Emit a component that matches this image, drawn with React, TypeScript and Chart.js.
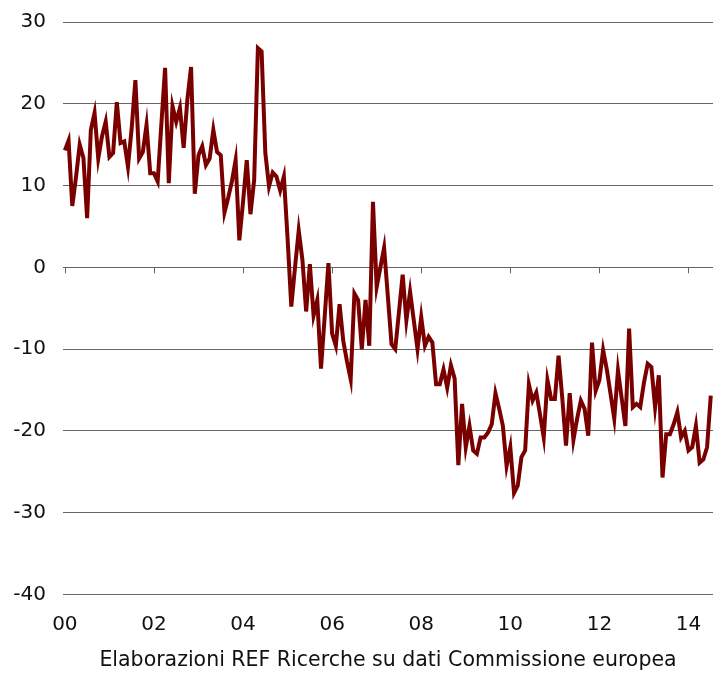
import React, { useEffect, useRef } from 'react';
import { Chart, registerables } from 'chart.js';

Chart.register(...registerables);

// Monthly values, Jan 2000 onward (index = months since Jan 2000)
const VALUES: number[] = [
  14.3, 15.5, 7.5, 11.0, 15.0, 13.4, 6.0, 16.8, 18.9, 13.3, 16.0, 17.8,
  13.5, 14.0, 20.2, 15.2, 15.4, 12.3, 17.0, 22.9, 13.3, 14.1, 17.4, 11.5,
  11.5, 10.5, 17.5, 24.4, 10.3, 19.7, 17.8, 19.5, 14.6, 20.5, 24.5, 9.0,
  13.7, 14.8, 12.5, 13.3, 16.8, 14.1, 13.7, 6.7, 8.5, 10.5, 13.1, 3.3,
  8.0, 13.1, 6.5, 10.7, 26.8, 26.4, 14.0, 9.9, 11.6, 11.1, 9.4, 11.1,
  3.5, -4.8, 0.0, 4.5, 0.9, -5.4, 0.4, -5.9, -4.0, -12.4, -6.0, 0.5,
  -8.1, -9.6, -4.5, -9.0, -11.5, -13.7, -3.2, -4.0, -10.0, -4.0, -9.6, 8.0,
  -2.4, 0.0, 2.4, -3.5, -9.4, -10.0, -5.5, -0.9, -6.5, -3.0, -6.5, -10.0,
  -6.1, -9.6, -8.5, -9.2, -14.3, -14.3, -12.5, -14.7, -12.0, -13.6, -24.2, -16.7,
  -22.0, -19.4, -22.4, -22.8, -20.8, -20.8, -20.2, -19.2, -15.4, -17.3, -19.4, -24.3,
  -22.0, -27.6, -26.7, -23.2, -22.4, -14.3, -16.3, -15.3, -18.0, -20.8, -13.8, -16.1,
  -16.1, -10.8, -16.0, -21.8, -15.4, -21.1, -18.5, -16.3, -17.3, -20.6, -9.2, -15.1,
  -13.8, -10.1, -12.5, -15.5, -18.5, -12.6, -16.0, -19.4, -7.5, -17.1, -16.7, -17.1,
  -14.1, -11.8, -12.2, -17.1, -13.2, -25.7, -20.4, -20.4, -19.2, -17.7, -20.8, -20.0,
  -22.4, -22.0, -19.4, -23.9, -23.5, -22.0, -15.7,
];

const TICK_MONTHS: number[] = [0, 24, 48, 72, 96, 120, 144, 168];
const TICK_LABELS: string[] = ['00', '02', '04', '06', '08', '10', '12', '14'];
const Y_MIN = -40;
const Y_MAX = 30;
const Y_STEP = 10;
const X_TITLE = 'Elaborazioni REF Ricerche su dati Commissione europea';

const FONT_FAMILY = '"DejaVu Sans", Verdana, sans-serif';
const TEXT_COLOR = '#111111';
const GRID_COLOR = '#666666';
const LINE_COLOR = '#7a0000';

export default function App() {
  const ref = useRef<HTMLCanvasElement>(null);

  useEffect(() => {
    if (!ref.current) return;

    const zeroTicks = {
      id: 'zeroTicks',
      beforeDatasetsDraw(chart: any) {
        const { ctx, scales } = chart;
        const x = scales.x;
        const y = scales.y;
        const y0 = y.getPixelForValue(0);
        ctx.save();
        ctx.strokeStyle = GRID_COLOR;
        ctx.lineWidth = 1;
        TICK_MONTHS.forEach((m) => {
          const px = Math.round(x.getPixelForValue(m)) + 0.5;
          ctx.beginPath();
          ctx.moveTo(px, y0);
          ctx.lineTo(px, y0 + 6);
          ctx.stroke();
        });
        ctx.restore();
      },
    };

    const chart = new Chart(ref.current, {
      type: 'line',
      data: {
        datasets: [
          {
            data: VALUES.map((v, i) => ({ x: i, y: v })),
            borderColor: LINE_COLOR,
            borderWidth: 4,
            pointRadius: 0,
            tension: 0,
            fill: false,
          },
        ],
      },
      options: {
        animation: false,
        responsive: true,
        maintainAspectRatio: false,
        layout: { padding: { left: 13, top: 22, right: 0, bottom: 0 } },
        plugins: { legend: { display: false }, tooltip: { enabled: false } },
        scales: {
          x: {
            type: 'linear',
            min: -0.5,
            max: 174.6,
            grid: { display: false },
            border: { display: false },
            afterBuildTicks: (s: any) => {
              s.ticks = TICK_MONTHS.map((v) => ({ value: v }));
            },
            ticks: {
              autoSkip: false,
              maxRotation: 0,
              padding: 10,
              color: TEXT_COLOR,
              font: { family: FONT_FAMILY, size: 20 },
              callback: (v: any) => {
                const i = TICK_MONTHS.indexOf(Number(v));
                return i >= 0 ? TICK_LABELS[i] : '';
              },
            },
            title: {
              display: true,
              text: X_TITLE,
              color: TEXT_COLOR,
              font: { family: FONT_FAMILY, size: 20.5 },
              padding: { top: 2, bottom: 0 },
            },
          },
          y: {
            min: Y_MIN,
            max: Y_MAX,
            afterFit: (s: any) => {
              s.width = 50;
              s.paddingTop = 0;
              s.paddingBottom = 0;
            },
            grid: { color: GRID_COLOR, lineWidth: 1, drawTicks: false },
            border: { display: false },
            ticks: {
              stepSize: Y_STEP,
              padding: 17,
              color: TEXT_COLOR,
              font: { family: FONT_FAMILY, size: 20 },
            },
          },
        },
      },
      plugins: [zeroTicks],
    });

    return () => chart.destroy();
  }, []);

  return (
    <div style={{ position: 'fixed', left: 0, top: 0, width: 713, height: 673 }}>
      <canvas ref={ref} />
    </div>
  );
}
